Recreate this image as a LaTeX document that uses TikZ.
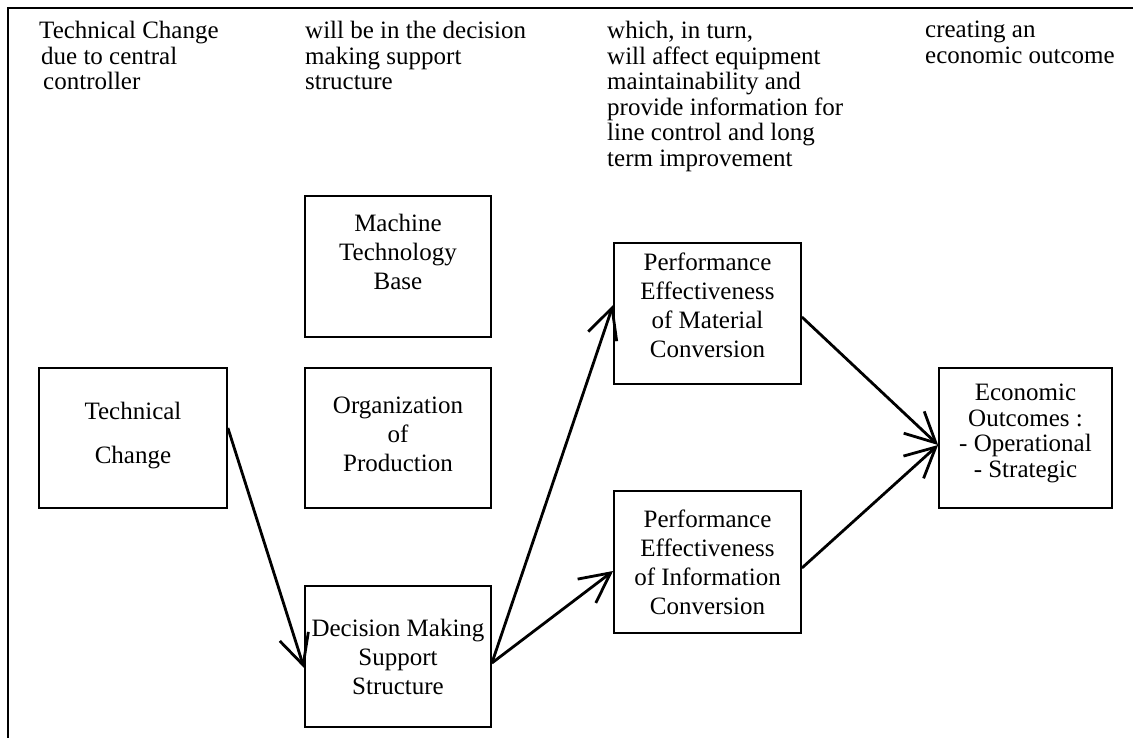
\documentclass[tikz,border=0pt]{standalone}
\usepackage{fontspec}
\setmainfont{Liberation Serif}
\usetikzlibrary{arrows.meta}
\newcommand{\diagfont}{\fontsize{25}{29}\selectfont}
\newcommand{\hdrfont}{\fontsize{25}{25.5}\selectfont}
\begin{document}
\begin{tikzpicture}[x=1pt,y=-1pt,
  box/.style={draw, line width=1.8pt, inner sep=0pt, align=center, font=\diagfont},
  hdr/.style={anchor=north west, align=left, inner sep=0pt, font=\hdrfont},
  arr/.style={line width=2.8pt, -{Straight Barb[length=30pt,width=30pt,line width=2.8pt]}},
  frame/.style={line width=1.8pt}]
\useasboundingbox (0,0) rectangle (1133,738);
\draw[frame] (8,738) -- (8,8) -- (1133,8);
% headers
\node[hdr] (h1) at (39,21) {Technical Change\\\hspace*{2pt}due to central\\\hspace*{4pt}controller};
\node[hdr] (h2) at (305,21) {will be in the decision\\making support\\structure};
\node[hdr] (h3) at (607,21) {which, in turn,\\will affect equipment\\maintainability and\\provide information for\\line control and long\\term improvement};
\node[hdr] (h4) at (925,21) {creating an\\economic outcome};
% boxes
\node[box, minimum width=188pt, minimum height=140pt] (tc) at (133,438) {Technical\\[15pt]Change\\[-19pt]\mbox{}};
\node[box, minimum width=186pt, minimum height=141pt] (mtb) at (398,266.5) {Machine\\Technology\\Base\\\mbox{}};
\node[box, minimum width=186pt, minimum height=140pt] (org) at (398,438) {Organization\\of\\Production\\[-21pt]\mbox{}};
\node[box, minimum width=186pt, minimum height=141pt] (dms) at (398,656.5) {Decision Making\\Support\\Structure};
\node[box, minimum width=187pt, minimum height=141pt] (pem) at (707.5,313.5) {Performance\\Effectiveness\\of Material\\Conversion\\[-13pt]\mbox{}};
\node[box, minimum width=187pt, minimum height=142pt] (pei) at (707.5,562) {Performance\\Effectiveness\\of Information\\Conversion};
\node[box, minimum width=173pt, minimum height=140pt, font=\hdrfont] (eco) at (1025.5,438) {Economic\\Outcomes :\\- Operational\\- Strategic\\[-10.5pt]\mbox{}};
% arrows
\draw[arr] ([yshift=10pt]tc.east) -- ([yshift=-11.5pt]dms.west);
\draw[arr] ([yshift=-6.5pt]dms.east) -- ([yshift=8.5pt]pem.west);
\draw[arr] ([yshift=-6.5pt]dms.east) -- ([yshift=-9pt]pei.west);
\draw[arr] ([yshift=-3.5pt]pem.east) -- ([yshift=-7pt]eco.west);
\draw[arr] ([yshift=-6pt]pei.east) -- ([yshift=-7pt]eco.west);
\end{tikzpicture}
\end{document}
